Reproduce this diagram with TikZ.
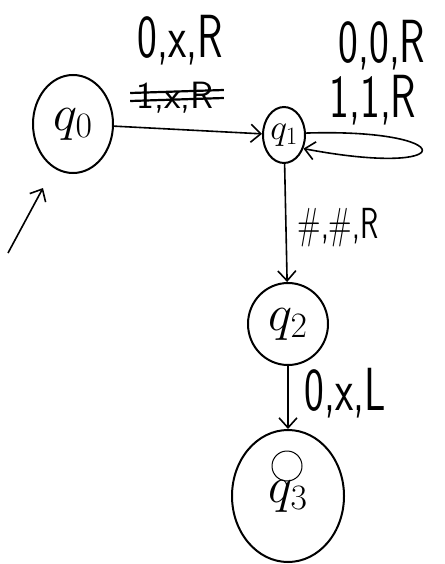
\RequirePackage{fix-cm}
\documentclass[tikz,border=0pt]{standalone}
\usetikzlibrary{shapes.geometric,arrows.meta}
\newcommand{\hand}[1]{\scalebox{1}[1.45]{#1}}
\newcommand{\qname}[2][1.5]{\scalebox{#1}{$q_{#2}$}}
\tikzset{
        state/.style={ellipse, draw=black, line width=2pt, inner sep=0pt, font=\fontsize{34}{36}\selectfont},
        final/.style={circle, draw=black, line width=1pt, minimum size=30},
        trans/.style={line width=1.6pt, -{Straight Barb[length=10pt,width=18pt]}},
        lbl/.style={font=\sffamily\fontsize{42}{46}\selectfont, inner sep=0pt},
        strike/.style={line width=2.2pt}
          }
\begin{document}
\begin{tikzpicture}[x=1pt,y=-1pt]
        \useasboundingbox (0,0) rectangle (444,564);
        % states
        \node[state, minimum width=80, minimum height=98] (q0) at (73,124) {\qname{0}};
        \node[state, minimum width=42, minimum height=56] (q1) at (284,135) {\qname[1.05]{1}};
        \node[state, minimum width=80, minimum height=82] (q2) at (288,324) {\qname{2}};
        \node[state, minimum width=112, minimum height=132] (q3) at (288,496) {\qname{3}};
        \node[final] (q3in) at (287,466) {};
        % labels
        \node[lbl] (l01) at (180,40) {\hand{0,x,R}};
        \node[lbl, font=\sffamily\fontsize{38}{40}\selectfont] (l01x) at (175,98) {1,x,R};
        \node[lbl] (l11a) at (382,45) {\hand{0,0,R}};
        \node[lbl] (l11b) at (373,100) {\hand{1,1,R}};
        \node[lbl, font=\sffamily\fontsize{30}{32}\selectfont] (l12) at (338,228) {\hand{\#,\#,R}};
        \node[lbl] (l23) at (345,393) {\hand{0,x,L}};
        % transitions
        \coordinate (start) at (8,253);
        \coordinate (startend) at (43,188);
        \draw[trans] (start) -- (startend);
        \draw[trans] (q0) -- (q1);
        \draw[strike] ([xshift=-6pt,yshift=5pt]l01x.west) -- ([xshift=10pt,yshift=8pt]l01x.east);
        \draw[strike] ([xshift=-6pt,yshift=-3pt]l01x.west) -- ([xshift=10pt,yshift=0pt]l01x.east);
        \draw[trans] (q1.5) .. controls +(155,-5) and +(158,30) .. (q1.-35);
        \draw[trans] (q1) -- (q2);
        \draw[trans] (q2) -- (q3);
      \end{tikzpicture}
\end{document}
